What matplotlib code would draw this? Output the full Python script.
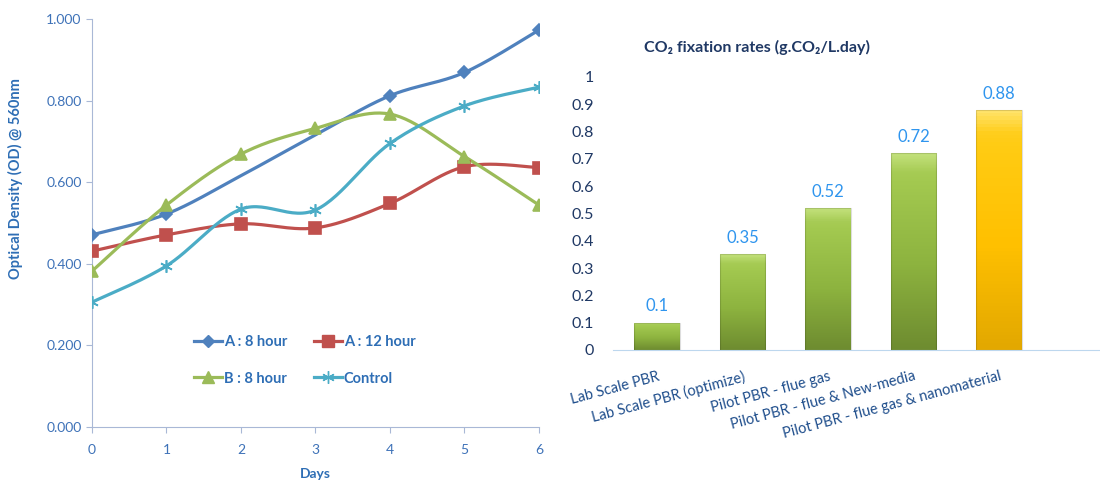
import matplotlib
matplotlib.use("Agg")
import matplotlib.pyplot as plt
import numpy as np
from matplotlib.colors import LinearSegmentedColormap

plt.rcParams["font.family"] = ["Lato", "DejaVu Sans"]

# ---- left chart data ----
days = [0, 1, 2, 3, 4, 5, 6]
a_8h = [0.471, 0.522, 0.616, 0.716, 0.812, 0.869, 0.973]
a_12h = [0.431, 0.471, 0.498, 0.488, 0.548, 0.638, 0.636]
b_8h = [0.382, 0.544, 0.669, 0.732, 0.767, 0.663, 0.544]
control = [0.306, 0.395, 0.534, 0.532, 0.695, 0.787, 0.833]

# ---- right chart data ----
stages = ["Lab Scale PBR", "Lab Scale PBR (optimize)", "Pilot PBR - flue gas",
          "Pilot PBR - flue & New-media", "Pilot PBR - flue gas & nanomaterial"]
rates = [0.1, 0.35, 0.52, 0.72, 0.88]


def smooth(x, y, n=30):
    """Excel-like smoothed line (Catmull-Rom through the points)."""
    x = np.asarray(x, float)
    y = np.asarray(y, float)
    px = np.concatenate([[x[0]], x, [x[-1]]])
    py = np.concatenate([[y[0]], y, [y[-1]]])
    xs, ys = [], []
    t = np.linspace(0, 1, n)
    for i in range(1, len(px) - 2):
        p0, p1, p2, p3 = px[i - 1], px[i], px[i + 1], px[i + 2]
        q0, q1, q2, q3 = py[i - 1], py[i], py[i + 1], py[i + 2]
        c1x, c1y = p1 + (p2 - p0) / 6, q1 + (q2 - q0) / 6
        c2x, c2y = p2 - (p3 - p1) / 6, q2 - (q3 - q1) / 6
        bx = (1 - t) ** 3 * p1 + 3 * (1 - t) ** 2 * t * c1x + 3 * (1 - t) * t ** 2 * c2x + t ** 3 * p2
        by = (1 - t) ** 3 * q1 + 3 * (1 - t) ** 2 * t * c1y + 3 * (1 - t) * t ** 2 * c2y + t ** 3 * q2
        xs.extend(bx)
        ys.extend(by)
    return np.array(xs), np.array(ys)


fig = plt.figure(figsize=(11, 4.82), dpi=100)

# ================= left: line chart =================
ax = fig.add_axes([0.0836, 0.114, 0.4064, 0.8466])
series = [
    ("A : 8 hour", a_8h, "#4F81BD", "D", 6, [0, 1, 4, 5, 6]),
    ("A : 12 hour", a_12h, "#C0504D", "s", 8, None),
    ("B : 8 hour", b_8h, "#9BBB59", "^", 8, None),
    ("Control", control, "#4BACC6", (6, 2, 0), 9, None),
]
for label, vals, col, mk, ms, every in series:
    sx, sy = smooth(days, vals)
    ax.plot(sx, sy, color=col, lw=2.3, zorder=2)
    idx = every if every is not None else list(range(len(days)))
    ax.plot([days[i] for i in idx], [vals[i] for i in idx], ls="none", marker=mk,
            ms=ms, color=col, mec=col, mew=1.2, zorder=3)
    ax.plot([], [], color=col, lw=2.3, marker=mk, ms=ms, mec=col, label=label)

ax.set_xlim(0, 6)
ax.set_ylim(0, 1.0)
ax.set_xticks(days)
ax.set_yticks(np.arange(0, 1.01, 0.2))
ax.set_yticklabels([f"{v:.3f}" for v in np.arange(0, 1.01, 0.2)])
for side in ["top", "right"]:
    ax.spines[side].set_visible(False)
for side in ["left", "bottom"]:
    ax.spines[side].set_color("#A9B8D6")
ax.tick_params(colors="#A9B8D6", labelcolor="#3E72B8", labelsize=10, length=4)
ax.tick_params(axis="x", pad=8)
ax.set_xlabel("Days", color="#2E6EB5", fontweight="bold", fontsize=10)
ax.xaxis.set_label_coords(0.5, -0.1)
ax.set_ylabel("Optical Density (OD) @ 560nm", color="#2E6EB5", fontweight="bold",
              fontsize=10.5)
ax.yaxis.set_label_coords(-0.155, 0.61)
handles, labels = ax.get_legend_handles_labels()
order = [0, 2, 1, 3]
leg = ax.legend([handles[i] for i in order], [labels[i] for i in order], ncol=2,
                frameon=False, loc="upper left", bbox_to_anchor=(0.2, 0.258),
                handlelength=1.9, handletextpad=0.15, columnspacing=1.8,
                labelspacing=1.55, prop={"weight": "bold", "size": 10.5})
for t in leg.get_texts():
    t.set_color("#2E6EB5")

# ================= right: bar chart =================
bx = fig.add_axes([0.5573, 0.2739, 0.4427, 0.5664])
pos = np.arange(len(stages))
bar_cols = ["green", "green", "green", "green", "gold"]
cmaps = {
    "green": LinearSegmentedColormap.from_list("g", ["#C2E07A", "#A3C950", "#8DB33F", "#6E8C30"]),
    "gold": LinearSegmentedColormap.from_list("y", ["#FFE36A", "#FFCC14", "#FFC000", "#E3A800"]),
}
bars = bx.bar(pos, rates, width=0.53, color="none", edgecolor="none", zorder=2)
grad = np.concatenate([np.linspace(0, 0.25, 6), np.linspace(0.3, 1, 60)])[:, None]
for rect, kind in zip(bars, bar_cols):
    x0, w, h = rect.get_x(), rect.get_width(), rect.get_height()
    im = bx.imshow(grad, cmap=cmaps[kind], aspect="auto", extent=[x0, x0 + w, 0, h],
                   origin="upper", zorder=2)
    im.set_clip_path(rect)
    bx.add_patch(plt.Rectangle((x0, 0), w, h, fill=False, ec="#00000022", lw=0.8, zorder=3))
for p, v in zip(pos, rates):
    bx.text(p, v + 0.03, f"{v:g}", ha="center", va="bottom", color="#2F95EE", fontsize=12)

bx.set_xlim(-0.515, 5.18)
bx.set_ylim(0, 1.0)
bx.set_yticks(np.arange(0, 1.01, 0.1))
bx.set_yticklabels([f"{v:.1f}".rstrip("0").rstrip(".") if v > 0 else "0"
                    for v in np.arange(0, 1.01, 0.1)])
bx.set_xticks(pos)
bx.set_xticklabels(stages, rotation=15, ha="right", rotation_mode="anchor")
bx.tick_params(axis="y", length=0, pad=14, labelsize=11.5, labelcolor="#1F3864")
bx.tick_params(axis="x", length=0, pad=14, labelsize=10.5, labelcolor="#1F4E8C")
for side in ["top", "right", "left"]:
    bx.spines[side].set_visible(False)
bx.spines["bottom"].set_color("#BDD7EE")
bx.set_xlim(-0.515, 5.18)
bx.set_ylim(0, 1.0)
fig.text(0.688, 0.902, "CO\u2082 fixation rates (g.CO\u2082/L.day)", ha="center", va="center",
         fontsize=11.5, fontweight="bold", color="#1F3864")

fig.savefig("out.png", dpi=100)
